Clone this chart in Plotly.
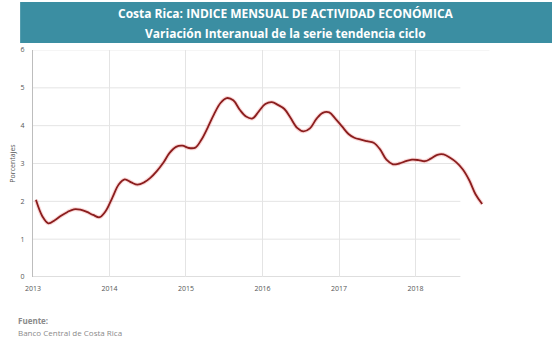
import plotly.graph_objects as go
import pandas as pd

# Monthly year-on-year change of the trend-cycle series (IMAE), Jan 2013 - Nov 2018
months = pd.date_range("2013-01-01", periods=71, freq="MS") + pd.Timedelta(days=14)
variacion = [
    2.04, 1.60, 1.42, 1.50, 1.62, 1.72, 1.79, 1.78, 1.72, 1.64, 1.58, 1.75,   # 2013
    2.10, 2.45, 2.58, 2.50, 2.44, 2.50, 2.62, 2.80, 3.02, 3.28, 3.44, 3.47,   # 2014
    3.41, 3.42, 3.62, 3.95, 4.30, 4.60, 4.73, 4.67, 4.42, 4.24, 4.19, 4.38,   # 2015
    4.57, 4.62, 4.55, 4.44, 4.20, 3.94, 3.85, 3.93, 4.18, 4.34, 4.35, 4.18,   # 2016
    3.98, 3.78, 3.68, 3.63, 3.59, 3.55, 3.38, 3.10, 2.98, 3.00, 3.06, 3.10,   # 2017
    3.09, 3.06, 3.13, 3.23, 3.24, 3.15, 3.03, 2.84, 2.55, 2.18, 1.93,         # 2018
]
year_ticks = ["2013-01-01", "2014-01-01", "2015-01-01", "2016-01-01", "2017-01-01", "2018-01-01"]
year_labels = ["2013", "2014", "2015", "2016", "2017", "2018"]
y_ticks = [0, 1, 2, 3, 4, 5, 6]

titulo_1 = "Costa Rica: INDICE MENSUAL DE ACTIVIDAD ECONÓMICA"
titulo_2 = "Variación Interanual de la serie tendencia ciclo"

W, H = 552, 342
M_L, M_R, M_T, M_B = 28, 60, 50, 65
PW, PH = W - M_L - M_R, H - M_T - M_B


def px(x):
    """Pixel column -> paper x."""
    return (x - M_L) / PW


def py(y):
    """Pixel row -> paper y."""
    return (H - M_B - y) / PH


fig = go.Figure()

# soft halo under the line
fig.add_trace(go.Scatter(
    x=months, y=variacion, mode="lines",
    line=dict(color="rgba(240,140,140,0.35)", width=4, shape="spline", smoothing=1.0),
    hoverinfo="skip", showlegend=False,
))
fig.add_trace(go.Scatter(
    x=months, y=variacion, mode="lines",
    line=dict(color="#8a1d1d", width=1.8, shape="spline", smoothing=1.0),
    showlegend=False,
))

shapes = []
# title banner
shapes.append(dict(type="rect", xref="paper", yref="paper",
                   x0=px(15), x1=px(553), y0=py(43), y1=py(2),
                   fillcolor="#3b8ea2", line=dict(width=0), layer="below"))
# horizontal gridlines (stop short of the last months)
for v in y_ticks[1:-1]:
    shapes.append(dict(type="line", xref="x", yref="y",
                       x0="2013-01-01", x1="2018-08-03", y0=v, y1=v,
                       line=dict(color="#e4e4e4", width=1), layer="below"))
shapes.append(dict(type="line", xref="x", yref="y",
                   x0="2013-01-01", x1="2018-12-20", y0=6, y1=6,
                   line=dict(color="#ececec", width=1), layer="below"))
# baseline
shapes.append(dict(type="line", xref="x", yref="y",
                   x0="2013-01-01", x1="2018-08-03", y0=0, y1=0,
                   line=dict(color="#bdbdbd", width=1), layer="below"))

annotations = [
    dict(text=f"<b>{titulo_1}</b>", xref="paper", yref="paper",
         x=px(284), y=py(13), xanchor="center", yanchor="middle", showarrow=False,
         font=dict(family="Open Sans", size=12, color="white")),
    dict(text=f"<b>{titulo_2}</b>", xref="paper", yref="paper",
         x=px(283), y=py(34), xanchor="center", yanchor="middle", showarrow=False,
         font=dict(family="Open Sans", size=12, color="white")),
    dict(text="<b>Fuente:</b>", xref="paper", yref="paper",
         x=px(11), y=py(320), xanchor="left", yanchor="middle", showarrow=False,
         font=dict(family="Open Sans", size=8, color="#8a8a8a")),
    dict(text="Banco Central de Costa Rica", xref="paper", yref="paper",
         x=px(11), y=py(332), xanchor="left", yanchor="middle", showarrow=False,
         font=dict(family="Open Sans", size=8, color="#8a8a8a")),
]

fig.update_layout(
    width=W, height=H,
    margin=dict(l=M_L, r=M_R, t=M_T, b=M_B, pad=0),
    paper_bgcolor="white", plot_bgcolor="white",
    shapes=shapes, annotations=annotations,
    font=dict(family="Open Sans", size=7, color="#555555"),
    xaxis=dict(
        range=["2013-01-01", "2019-01-01"],
        tickvals=year_ticks, ticktext=year_labels,
        showgrid=True, gridcolor="#e4e4e4", gridwidth=1,
        zeroline=False, showline=False, ticks="",
        ticklabelstandoff=6,
        tickfont=dict(size=7, color="#555555"),
        fixedrange=True,
    ),
    yaxis=dict(
        range=[0, 6], tickvals=y_ticks,
        showgrid=False, zeroline=False,
        showline=True, linecolor="#bdbdbd", linewidth=1, ticks="",
        ticklabelstandoff=6,
        tickfont=dict(size=7, color="#555555"),
        title=dict(text="Porcentajes", font=dict(size=7, color="#555555"), standoff=4),
        fixedrange=True,
    ),
)

fig.write_html("out.html")
